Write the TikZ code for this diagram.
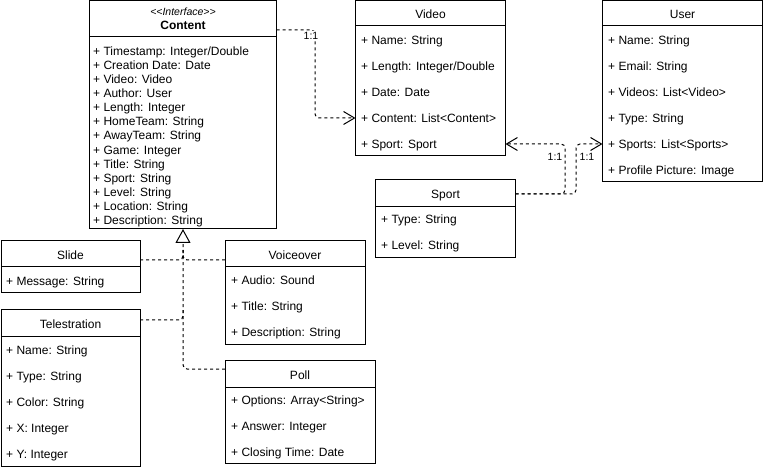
\documentclass[tikz,border=0pt]{standalone}
\usepackage{fontspec}
\newfontfamily\dio{Liberation Sans}
\usetikzlibrary{arrows.meta}
\begin{document}
\begin{tikzpicture}[x=1pt,y=-1pt,
  box/.style={draw, line width=1pt, anchor=north west, inner sep=0pt, outer sep=0pt},
  title/.style={font=\dio\fontsize{12}{14}\selectfont, inner sep=0pt, anchor=base},
  attr/.style={font=\dio\fontsize{12}{14}\selectfont, inner sep=0pt, anchor=base west},
  mult/.style={font=\dio\fontsize{10.5}{12}\selectfont, inner sep=1pt},
  link/.style={line width=1pt, dash pattern=on 3pt off 3pt, rounded corners=4pt},
  assoc/.style={link, -{Straight Barb[length=11pt,width=13pt,line width=1pt]}},
  realize/.style={link, -{Triangle[open,length=14pt,width=15pt,line width=1pt,fill=white]}},
  divider/.style={line width=1pt},
]
\useasboundingbox (0,0) rectangle (763,470);

% ---------- Content interface ----------
\node[box, minimum width=187pt, minimum height=228pt] (content) at (89.5,1) {};
\draw[divider] (content.west |- 0,37) -- (content.east |- 0,37);
\node[title, font=\dio\itshape\fontsize{10.5}{12}\selectfont] (cstereo) at (content.north |- 0,15.5) {<\kern0pt<Interface>\kern0pt>};
\node[title, font=\dio\bfseries\fontsize{12}{14}\selectfont] (ctitle) at (content.north |- 0,30) {Content};
\foreach \t [count=\i from 0] in {+ Timestamp: Integer/Double, + Creation Date: Date, + Video: Video,
  + Author: User, + Length: Integer, + HomeTeam: String, + AwayTeam: String, + Game: Integer,
  + Title: String, + Sport: String, + Level: String, + Location: String, + Description: String}
  \node[attr] (c\i) at (93, 55.5+14.08*\i) {\t};

% ---------- Video ----------
\node[box, minimum width=150pt, minimum height=155pt] (video) at (355.5,1) {};
\draw[divider] (video.west |- 0,26) -- (video.east |- 0,26);
\node[title] (vtitle) at (video.north |- 0,19) {Video};
\foreach \t [count=\i from 0] in {+ Name: String, + Length: Integer/Double, + Date: Date,
  + Content: List<Content>, + Sport: Sport}
  \node[attr] (v\i) at (361, 45+26*\i) {\t};

% ---------- User ----------
\node[box, minimum width=160pt, minimum height=181pt] (user) at (602.5,1) {};
\draw[divider] (user.west |- 0,26) -- (user.east |- 0,26);
\node[title] (utitle) at (user.north |- 0,19) {User};
\foreach \t [count=\i from 0] in {+ Name: String, + Email: String, + Videos: List<Video>,
  + Type: String, + Sports: List<Sports>, + Profile Picture: Image}
  \node[attr] (u\i) at (608, 45+26*\i) {\t};

% ---------- Sport ----------
\node[box, minimum width=140pt, minimum height=78pt] (sport) at (375.5,180) {};
\draw[divider] (sport.west |- 0,207) -- (sport.east |- 0,207);
\node[title] (stitle) at (sport.north |- 0,199) {Sport};
\foreach \t [count=\i from 0] in {+ Type: String, + Level: String}
  \node[attr] (s\i) at (381, 224+26*\i) {\t};

% ---------- Slide ----------
\node[box, minimum width=139pt, minimum height=52pt] (slide) at (1,241) {};
\draw[divider] (slide.west |- 0,267) -- (slide.east |- 0,267);
\node[title] (sltitle) at (slide.north |- 0,260) {Slide};
\node[attr] (sl0) at (6, 286) {+ Message: String};

% ---------- Telestration ----------
\node[box, minimum width=139pt, minimum height=156pt] (tele) at (1,310) {};
\draw[divider] (tele.west |- 0,336) -- (tele.east |- 0,336);
\node[title] (ttitle) at (tele.north |- 0,329) {Telestration};
\foreach \t [count=\i from 0] in {+ Name: String, + Type: String, + Color: String,
  + X: Integer, + Y: Integer}
  \node[attr] (t\i) at (6, 354+26*\i) {\t};

% ---------- Voiceover ----------
\node[box, minimum width=140pt, minimum height=103pt] (voice) at (225,241) {};
\draw[divider] (voice.west |- 0,267) -- (voice.east |- 0,267);
\node[title] (vctitle) at (voice.north |- 0,260) {Voiceover};
\foreach \t [count=\i from 0] in {+ Audio: Sound, + Title: String, + Description: String}
  \node[attr] (vo\i) at (231, 285+26*\i) {\t};

% ---------- Poll ----------
\node[box, minimum width=150pt, minimum height=103pt] (poll) at (225,360.5) {};
\draw[divider] (poll.west |- 0,387) -- (poll.east |- 0,387);
\node[title] (ptitle) at (poll.north |- 0,379) {Poll};
\foreach \t [count=\i from 0] in {+ Options: Array<String>, + Answer: Integer, + Closing Time: Date}
  \node[attr] (p\i) at (231, 404+26*\i) {\t};

% ---------- associations ----------
\draw[assoc] (content.east |- 0,30) -- (315,30) -- (315,118) -- (video.west |- 0,118);
\node[mult, fill=white] (m1) at (311,36) {1:1};

\draw[assoc] (sport.east |- 0,194) -- (565,194) -- (565,144) -- (video.east |- 0,144);
\node[mult] (m2) at (555,157) {1:1};
\draw[assoc] (sport.east |- 0,194) -- (576,194) -- (576,144) -- (user.west |- 0,144);
\node[mult] (m3) at (587,157) {1:1};

% ---------- realizations of Content ----------
\coordinate (jslide) at (content.south |- 0,250);
\coordinate (jtele) at (content.south |- 0,310);
\draw[realize] (poll.west |- 0,369) -- (content.south |- 0,369) -- (content.south);
\draw[link] (slide.east |- 0,260) -- (content.south |- 0,260) -- (jslide);
\draw[link] (voice.west |- 0,260) -- (content.south |- 0,260) -- (jslide);
\draw[link] (tele.east |- 0,320) -- (content.south |- 0,320) -- (jtele);
\end{tikzpicture}
\end{document}
